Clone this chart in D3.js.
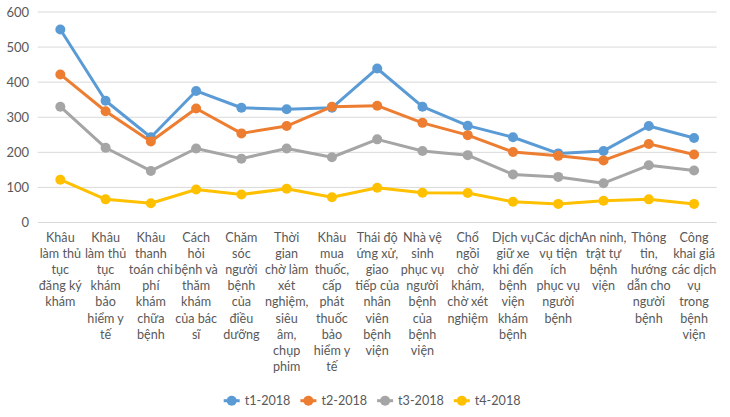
<!DOCTYPE html>
<html><head><meta charset="utf-8">
<script src="https://cdn.jsdelivr.net/npm/d3@7"></script>
<style>body{margin:0;background:#fff;} text{font-family:Lato,"Open Sans",sans-serif;}</style>
</head><body><svg id="c" width="730" height="417"></svg>
<script>
const categories = [
 ["Khâu","làm thủ","tục","đăng ký","khám"],
 ["Khâu","làm thủ","tục","khám","bảo","hiểm y","tế"],
 ["Khâu","thanh","toán chi","phí","khám","chữa","bệnh"],
 ["Cách","hỏi","bệnh và","thăm","khám","của bác","sĩ"],
 ["Chăm","sóc","người","bệnh","của","điều","dưỡng"],
 ["Thời","gian","chờ làm","xét","nghiệm,","siêu","âm,","chụp","phim"],
 ["Khâu","mua","thuốc,","cấp","phát","thuốc","bảo","hiểm y","tế"],
 ["Thái độ","ứng xử,","giao","tiếp của","nhân","viên","bệnh","viện"],
 ["Nhà vệ","sinh","phục vụ","người","bệnh","của","bệnh","viện"],
 ["Chổ","ngồi","chờ","khám,","chờ xét","nghiệm"],
 ["Dịch vụ","giữ xe","khi đến","bệnh","viện","khám","bệnh"],
 ["Các dịch","vụ tiện","ích","phục vụ","người","bệnh"],
 ["An ninh,","trật tự","bệnh","viện"],
 ["Thông","tin,","hướng","dẫn cho","người","bệnh"],
 ["Công","khai giá","các dịch","vụ","trong","bệnh","viện"]
];
const seriesNames = ["t1-2018","t2-2018","t3-2018","t4-2018"];
const t1 = [550,347,243,375,327,323,327,439,330,276,243,197,204,275,241];
const t2 = [422,317,231,325,254,275,330,333,284,249,201,190,177,224,194];
const t3 = [330,213,147,211,182,211,186,237,204,192,137,130,112,163,148];
const t4 = [122,66,55,94,80,96,72,99,85,84,59,53,62,66,53];
const yTicks = [0,100,200,300,400,500,600];
const colors = ["#5B9BD5","#ED7D31","#A5A5A5","#FFC000"];
const series = [t1,t2,t3,t4];

(function(){
const svg = d3.select("#c");
const pL = 37.7, pR = 716.7, pT = 12, pB = 222.5;
const x = d3.scaleBand().domain(d3.range(categories.length)).range([pL,pR]);
const y = d3.scaleLinear().domain([0,600]).range([pB,pT]);

svg.append("g").selectAll("line").data(yTicks).join("line")
  .attr("x1",pL).attr("x2",pR)
  .attr("y1",d=>y(d)).attr("y2",d=>y(d))
  .attr("stroke","#d9d9d9").attr("stroke-width",1);

svg.append("g").selectAll("text").data(yTicks).join("text")
  .attr("x",29).attr("y",d=>y(d)+4.5).attr("text-anchor","end")
  .attr("font-size",13).attr("fill","#595959").text(d=>d);

const xl = svg.append("g");
categories.forEach((lines,i)=>{
  const t = xl.append("text").attr("text-anchor","middle").attr("font-size",12.6).attr("fill","#595959");
  lines.forEach((ln,j)=>{
    t.append("tspan").attr("x",x(i)+x.bandwidth()/2).attr("y",242+j*16.1).text(ln);
  });
});

const line = d3.line().x((d,i)=>x(i)+x.bandwidth()/2).y(d=>y(d));
series.forEach((s,k)=>{
  const g = svg.append("g");
  g.append("path").datum(s).attr("d",line).attr("fill","none")
   .attr("stroke",colors[k]).attr("stroke-width",3).attr("stroke-linejoin","round").attr("stroke-linecap","round");
  g.selectAll("circle").data(s).join("circle")
   .attr("cx",(d,i)=>x(i)+x.bandwidth()/2).attr("cy",d=>y(d)).attr("r",5)
   .attr("fill",colors[k]);
});

const lg = svg.append("g");
seriesNames.forEach((n,k)=>{
  const cx = 231.7 + k*76.7, cy = 400.7;
  lg.append("line").attr("x1",cx-8).attr("x2",cx+8).attr("y1",cy).attr("y2",cy)
    .attr("stroke",colors[k]).attr("stroke-width",3);
  lg.append("circle").attr("cx",cx).attr("cy",cy).attr("r",5).attr("fill",colors[k]);
  lg.append("text").attr("x",cx+13).attr("y",cy+4.5).attr("font-size",12.6).attr("fill","#595959").text(n);
});
})();
</script></body></html>
